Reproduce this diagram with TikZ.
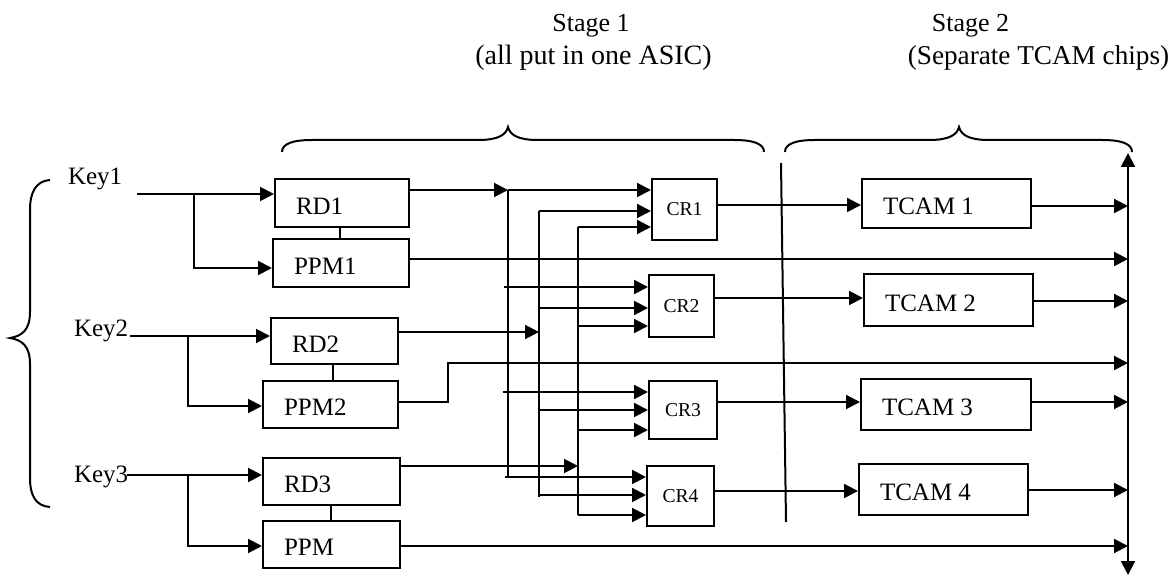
\documentclass[tikz,border=0pt]{standalone}
\usepackage{fontspec}
\setmainfont{Liberation Serif}
\usetikzlibrary{arrows.meta}
\begin{document}
\begin{tikzpicture}[x=0.5pt,y=-0.5pt, line width=1pt,
  box/.style={draw, line width=1pt, inner sep=0pt},
  lbl/.style={anchor=west, inner sep=0pt, xshift=10.5pt, yshift=-1.5pt, font=\fontsize{12.5}{15}\selectfont},
  crbox/.style={draw, line width=1pt, inner sep=0pt, font=\fontsize{9.8}{12}\selectfont},
  keytxt/.style={anchor=base west, inner sep=0pt, font=\fontsize{12.5}{15}\selectfont},
  stagetxt/.style={anchor=base, inner sep=0pt},
  arr/.style={-{Triangle[length=7pt,width=7pt]}},
  dblarr/.style={{Triangle[length=7pt,width=7pt]}-{Triangle[length=7pt,width=7pt]}},
]
\useasboundingbox (0,0) rectangle (1171,576);

% titles
\node[stagetxt, font=\fontsize{13}{15}\selectfont] (s1) at (591,32) {Stage 1};
\node[stagetxt, font=\fontsize{14}{16}\selectfont] (s1b) at (593.5,65) {(all put in one ASIC)};
\node[stagetxt, font=\fontsize{13}{15}\selectfont] (s2) at (970.5,32) {Stage 2};
\node[stagetxt, font=\fontsize{13.6}{16}\selectfont] (s2b) at (1038.5,65) {(Separate TCAM chips)};

% braces
\draw (282,152) .. controls (282,144) and (292,140) .. (312,140) -- (478,140)
  .. controls (498,140) and (506,135) .. (508,127)
  .. controls (510,135) and (518,140) .. (538,140) -- (734,140)
  .. controls (754,140) and (764,144) .. (764,152);
\draw (785,152) .. controls (785,144) and (795,140) .. (815,140) -- (929,140)
  .. controls (949,140) and (957,135) .. (959,127)
  .. controls (961,135) and (969,140) .. (989,140) -- (1102,140)
  .. controls (1122,140) and (1132,144) .. (1132,152);
\draw (50,180) .. controls (36,181) and (30,192) .. (30,210) -- (30,312)
  .. controls (30,330) and (22,336) .. (10,338)
  .. controls (22,340) and (30,346) .. (30,364) -- (30,478)
  .. controls (30,496) and (36,506) .. (50,507);

% separator
\draw (781,163) -- (786,522);

% keys
\node[keytxt] (key1) at (67,185) {Key1};
\node[keytxt] (key2) at (73,337) {Key2};
\node[keytxt] (key3) at (73,482) {Key3};

% RD / PPM boxes
\node[box, minimum width=67pt, minimum height=24pt, label={[lbl]west:RD1}] (rd1) at (342,203) {};
\node[box, minimum width=68pt, minimum height=24pt, label={[lbl]west:PPM1}] (ppm1) at (341,263) {};
\node[box, minimum width=63.5pt, minimum height=23pt, label={[lbl]west:RD2}] (rd2) at (334.5,341) {};
\node[box, minimum width=67.5pt, minimum height=23.5pt, label={[lbl]west:PPM2}] (ppm2) at (330.5,404.5) {};
\node[box, minimum width=68.5pt, minimum height=23.5pt, label={[lbl]west:RD3}] (rd3) at (331.5,481.5) {};
\node[box, minimum width=68.5pt, minimum height=23.5pt, label={[lbl]west:PPM}] (ppm3) at (331.5,544.5) {};

% CR boxes
\node[crbox, minimum width=32.5pt, minimum height=30.5pt] (cr1) at (684.5,209.5) {CR1};
\node[crbox, minimum width=32.5pt, minimum height=31pt] (cr2) at (681.5,306) {CR2};
\node[crbox, minimum width=34pt, minimum height=29pt] (cr3) at (683,410) {CR3};
\node[crbox, minimum width=33.5pt, minimum height=30pt] (cr4) at (680.5,496) {CR4};

% TCAM boxes
\node[box, minimum width=84.5pt, minimum height=24.5pt, label={[lbl]west:TCAM 1}] (t1) at (946.5,203.5) {};
\node[box, minimum width=84.5pt, minimum height=26pt, label={[lbl]west:TCAM 2}] (t2) at (948.5,300) {};
\node[box, minimum width=85pt, minimum height=25.5pt, label={[lbl]west:TCAM 3}] (t3) at (946,404.5) {};
\node[box, minimum width=84.5pt, minimum height=25.5pt, label={[lbl]west:TCAM 4}] (t4) at (943.5,489.5) {};

% key inputs
\coordinate (k1) at (137,194); \coordinate (j1) at (194,194);
\coordinate (k2) at (130,336); \coordinate (j2) at (188,336);
\coordinate (k3) at (127,475); \coordinate (j3) at (188,475);
\draw[arr] (k1) -- (rd1.west |- k1);
\draw[arr] (j1) |- (ppm1.west |- 0,268);
\draw[arr] (k2) -- (rd2.west |- k2);
\draw[arr] (j2) |- (ppm2.west |- 0,406);
\draw[arr] (k3) -- (rd3.west |- k3);
\draw[arr] (j3) |- (ppm3.west |- 0,546);

% RD-PPM ties
\draw (rd1.south -| 340,0) -- (ppm1.north -| 340,0);
\draw (rd2.south -| 333,0) -- (ppm2.north -| 333,0);
\draw (rd3.south -| 331,0) -- (ppm3.north -| 331,0);

% buses
\coordinate (ba) at (508,190); \coordinate (bae) at (508,477);
\coordinate (bb) at (539,211); \coordinate (bbe) at (539,497);
\coordinate (bc) at (578,227); \coordinate (bce) at (578,515);
\draw (ba) -- (bae);
\draw (bb) -- (bbe);
\draw (bc) -- (bce);

% RD outputs to buses
\draw[arr] (rd1.east |- 0,190) -- (ba);
\draw[arr] (rd2.east |- 0,332) -- (bb |- 0,332);
\draw[arr] (rd3.east |- 0,466) -- (bc |- 0,466);

% bus A inputs
\draw[arr] (ba) -- (cr1.west |- ba);
\draw[arr] (504,287) -- (cr2.west |- 0,287);
\draw[arr] (503,392) -- (cr3.west |- 0,392);
\draw[arr] (505,477) -- (cr4.west |- 0,477);
% bus B inputs
\draw[arr] (bb) -- (cr1.west |- bb);
\draw[arr] (bb |- 0,308) -- (cr2.west |- 0,308);
\draw[arr] (bb |- 0,410) -- (cr3.west |- 0,410);
\draw[arr] (bb |- 0,495) -- (cr4.west |- 0,495);
% bus C inputs
\draw[arr] (bc) -- (cr1.west |- bc);
\draw[arr] (bc |- 0,326) -- (cr2.west |- 0,326);
\draw[arr] (bc |- 0,430) -- (cr3.west |- 0,430);
\draw[arr] (bce) -- (cr4.west |- bce);

% CR to TCAM
\draw[arr] (cr1.east |- 0,205) -- (t1.west |- 0,205);
\draw[arr] (cr2.east |- 0,298) -- (t2.west |- 0,298);
\draw[arr] (cr3.east |- 0,402) -- (t3.west |- 0,402);
\draw[arr] (cr4.east |- 0,491) -- (t4.west |- 0,491);

% output bus
\coordinate (ot) at (1128,153); \coordinate (ob) at (1128,575);
\draw[dblarr] (ot) -- (ob);
\draw[arr] (t1.east |- 0,206) -- (ot |- 0,206);
\draw[arr] (t2.east |- 0,301) -- (ot |- 0,301);
\draw[arr] (t3.east |- 0,402) -- (ot |- 0,402);
\draw[arr] (t4.east |- 0,490) -- (ot |- 0,490);

% PPM outputs
\draw[arr] (ppm1.east |- 0,259) -- (ot |- 0,259);
\draw[arr] (ppm2.east |- 0,402) -- (448,402) -- (448,363) -- (ot |- 0,363);
\draw[arr] (ppm3.east |- 0,546) -- (ot |- 0,546);

\end{tikzpicture}
\end{document}
